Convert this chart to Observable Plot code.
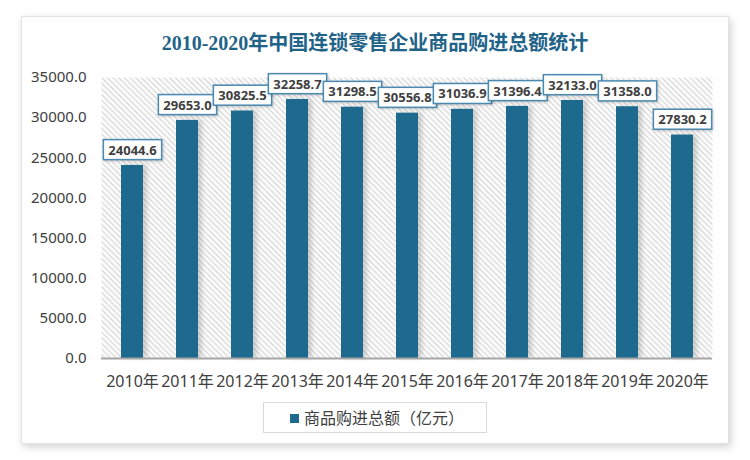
<!DOCTYPE html>
<html>
<head>
<meta charset="utf-8">
<script src="https://cdn.jsdelivr.net/npm/d3@7"></script>
<script src="https://cdn.jsdelivr.net/npm/@observablehq/plot@0.6"></script>
<style>
  body { margin: 0; background: #ffffff; }
  #wrap { position: relative; width: 750px; height: 460px; overflow: hidden; font-family: "Noto Sans", "Noto Sans CJK SC", sans-serif; }
  #card { position: absolute; left: 21px; top: 16px; width: 706px; height: 426px; background: #fff; border: 1px solid #e2e2e2; box-shadow: 2px 3px 8px rgba(0,0,0,0.18); }
  #title { position: relative; height: 31px; padding-top: 31px; line-height: 24px; text-align: center; font-family: "Liberation Serif", "Noto Sans CJK SC", serif; font-weight: bold; font-size: 20px; color: #1f6389; }
  #chart { position: relative; height: 340px; margin-top: -2px; }
  #legend { position: relative; height: 60px; }
  #legbox { position: absolute; left: 263px; top: 2px; width: 222px; height: 29px; border: 1px solid #d9d9d9; background: #fff; }
  #legbox .sw { position: absolute; left: 26px; top: 11px; width: 9px; height: 9px; background: #1d6a8e; }
  #legbox .lt { position: absolute; left: 40px; top: 0; line-height: 29px; font-size: 16px; color: #404040; font-family: "Noto Sans CJK SC", sans-serif; }
</style>
</head>
<body>
<div id="wrap">
  <div id="card"></div>
  <div id="title"></div>
  <div id="chart"></div>
  <div id="legend"><div id="legbox"><div class="sw"></div><div class="lt"></div></div></div>
</div>
<script>
const titleText = "2010-2020年中国连锁零售企业商品购进总额统计";
const seriesName = "商品购进总额（亿元）";
const years = ["2010年","2011年","2012年","2013年","2014年","2015年","2016年","2017年","2018年","2019年","2020年"];
const values = [24044.6, 29653.0, 30825.5, 32258.7, 31298.5, 30556.8, 31036.9, 31396.4, 32133.0, 31358.0, 27830.2];
const yTicks = [0, 5000, 10000, 15000, 20000, 25000, 30000, 35000];

document.getElementById("title").textContent = titleText;
document.querySelector("#legbox .lt").textContent = seriesName;

const data = years.map((y, i) => ({year: y, value: values[i]}));
const fmt = d3.format(".1f");

const plot = Plot.plot({
  width: 750,
  height: 340,
  marginLeft: 101,
  marginRight: 38,
  marginTop: 17,
  marginBottom: 42,
  style: {fontFamily: "'Noto Sans', 'Noto Sans CJK SC', sans-serif", fontSize: "15px", background: "transparent", overflow: "visible"},
  x: {domain: years, paddingInner: 0.6, paddingOuter: 0.3, label: null},
  y: {domain: [0, 35000], label: null},
  marks: [
    Plot.frame({fill: "url(#hatchbg)", stroke: "none"}),
    Plot.axisY({ticks: yTicks, tickFormat: fmt, tickSize: 0, tickPadding: 15, color: "#404040", fontSize: 15, label: null}),
    Plot.axisX({tickSize: 0, tickPadding: 17, color: "#404040", fontSize: 16, label: null}),
    Plot.barY(data, {x: "year", y: "value", fill: "#1d6a8e"}),
    Plot.ruleY([0], {stroke: "#a6a6a6", strokeWidth: 2}),
    Plot.text(data, {x: "year", y: "value", text: d => fmt(d.value), dy: -15, fill: "#404040", fontSize: 13, fontWeight: "bold"})
  ]
});
document.getElementById("chart").appendChild(plot);

// hatch pattern
const svg = d3.select(plot);
const defs = svg.insert("defs", ":first-child");
const pat = defs.append("pattern").attr("id", "hatchbg").attr("patternUnits", "userSpaceOnUse")
  .attr("width", 4).attr("height", 4).attr("patternTransform", "rotate(45)");
pat.append("rect").attr("width", 4).attr("height", 4).attr("fill", "#fbfbfb");
pat.append("line").attr("x1", 0).attr("y1", 0.5).attr("x2", 4).attr("y2", 0.5).attr("stroke", "#d6d6d6").attr("stroke-width", 1.2);

svg.selectAll('g[aria-label="bar"]').style("filter", "drop-shadow(4px 0px 2px rgba(0,0,0,0.16))");

// label boxes
svg.selectAll('g[aria-label="text"] text').each(function() {
  const b = this.getBBox();
  const r = document.createElementNS("http://www.w3.org/2000/svg", "rect");
  const h = 20, w = b.width + 10;
  const cy = b.y + b.height / 2;
  r.setAttribute("x", b.x - 5);
  r.setAttribute("y", cy - h / 2);
  r.setAttribute("width", w);
  r.setAttribute("height", h);
  r.setAttribute("fill", "#ffffff");
  r.setAttribute("stroke", "#4a89b0");
  r.setAttribute("stroke-width", 1.5);
  r.style.filter = "drop-shadow(1px 1px 1px rgba(0,0,0,0.2))";
  const t = this.getAttribute("transform");
  if (t) r.setAttribute("transform", t);
  this.parentNode.insertBefore(r, this);
});
</script>
</body>
</html>
